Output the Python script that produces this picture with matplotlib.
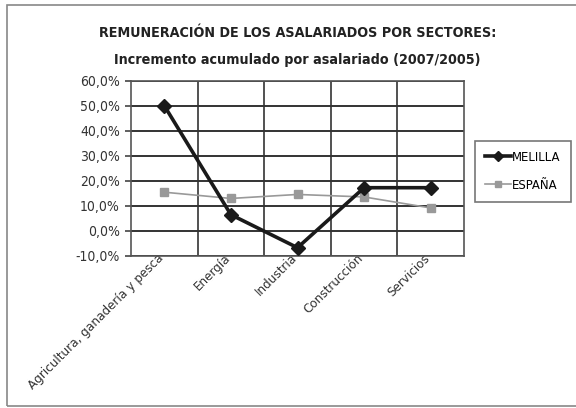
import matplotlib
matplotlib.use("Agg")
import matplotlib.pyplot as plt
from matplotlib.patches import Rectangle
from matplotlib.ticker import FuncFormatter, MultipleLocator
from matplotlib import font_manager
from matplotlib.font_manager import FontProperties

categories = ["Agricultura, ganadería y pesca", "Energía", "Industria", "Construcción", "Servicios"]
melilla = [50.0, 6.4, -6.8, 17.2, 17.2]
espana = [15.4, 12.9, 14.5, 13.5, 9.1]
series_names = ["MELILLA", "ESPAÑA"]
title1 = "REMUNERACIÓN DE LOS ASALARIADOS POR SECTORES:"
title2 = "Incremento acumulado por asalariado (2007/2005)"

# look for a condensed font
files = [f.fname for f in font_manager.fontManager.ttflist]
def find(keys, bold):
    for k in keys:
        for fn in files:
            b = fn.split("/")[-1]
            if k.lower() in b.lower():
                isb = "bold" in b.lower()
                if isb == bold and "italic" not in b.lower() and "oblique" not in b.lower():
                    return fn
    return None

reg = find(["LiberationSansNarrow-Regular", "LiberationSansNarrow", "DejaVuSansCondensed.ttf", "DejaVuSansCondensed"], False)
bld = find(["LiberationSansNarrow-Bold", "LiberationSansNarrow", "DejaVuSansCondensed-Bold", "DejaVuSansCondensed"], True)
if reg and bld:
    fp_reg = lambda s: FontProperties(fname=reg, size=s)
    fp_bld = lambda s: FontProperties(fname=bld, size=s)
    narrow = "Narrow" in reg
else:
    fp_reg = lambda s: FontProperties(family="Liberation Sans", size=s)
    fp_bld = lambda s: FontProperties(family="Liberation Sans", weight="bold", size=s)
    narrow = False
title_size = 11.5 if narrow else 10.3

fig = plt.figure(figsize=(5.76, 4.08), dpi=100)
fig.patch.set_facecolor("white")
fig.add_artist(Rectangle((7/576, 2/408), 1.2, 401/408, transform=fig.transFigure,
                         fill=False, edgecolor="#888888", linewidth=1.2))

ax = fig.add_axes([131/576, 1 - 255.7/408, (464 - 131)/576, (255.7 - 80.7)/408])
x = list(range(len(categories)))
ax.plot([i + 0.5 for i in x], espana, color="#999999", linewidth=1.2, marker="s",
        markersize=6, markerfacecolor="#999999", markeredgecolor="#999999", label=series_names[1], zorder=3)
ax.plot([i + 0.5 for i in x], melilla, color="#1a1a1a", linewidth=2.6, marker="D",
        markersize=7.5, markerfacecolor="#1a1a1a", markeredgecolor="#1a1a1a", label=series_names[0], zorder=4)

ax.set_xlim(0, 5)
ax.set_ylim(-10, 60)
ax.yaxis.set_major_locator(MultipleLocator(10))
ax.yaxis.set_major_formatter(FuncFormatter(lambda v, p: f"{v:.1f}%".replace(".", ",")))
# label anchors sit a little left of each category centre, as in the reference
ax.set_xticks([i + 0.5 - 0.11 for i in x])
ax.set_xticklabels(categories, rotation=45, ha="right", va="top", rotation_mode="anchor", color="#333333")
for lbl in ax.get_xticklabels():
    lbl.set_fontproperties(fp_reg(9.6))
ax.tick_params(axis="x", length=0, pad=-3)
ax.tick_params(axis="y", length=4, width=1.2, color="#444444", labelcolor="#333333", pad=4)
for lbl in ax.get_yticklabels():
    lbl.set_fontproperties(fp_reg(10))
for v in range(1, 5):
    ax.axvline(v, color="#333333", linewidth=1.2, zorder=1)
ax.grid(axis="y", color="#333333", linewidth=1.4, zorder=1)
for s in ax.spines.values():
    s.set_color("#555555")
    s.set_linewidth(1.2)

fig.text(297.5/576, 1 - 33/408, title1, ha="center", va="center", fontproperties=fp_bld(title_size), color="#222222")
fig.text(297.5/576, 1 - 60/408, title2, ha="center", va="center", fontproperties=fp_bld(title_size), color="#222222")

h, l = ax.get_legend_handles_labels()
leg = fig.legend(h[::-1], l[::-1], loc="upper left", bbox_to_anchor=(475/576, 1 - 141/408),
                 borderaxespad=0, frameon=True, fancybox=False, edgecolor="#555555", prop=fp_reg(9.4),
                 handlelength=2.0, handletextpad=0.1, borderpad=0.75, labelspacing=1.15,
                 markerscale=0.7)
leg.get_frame().set_linewidth(1.2)

fig.savefig("out.png", dpi=100)
